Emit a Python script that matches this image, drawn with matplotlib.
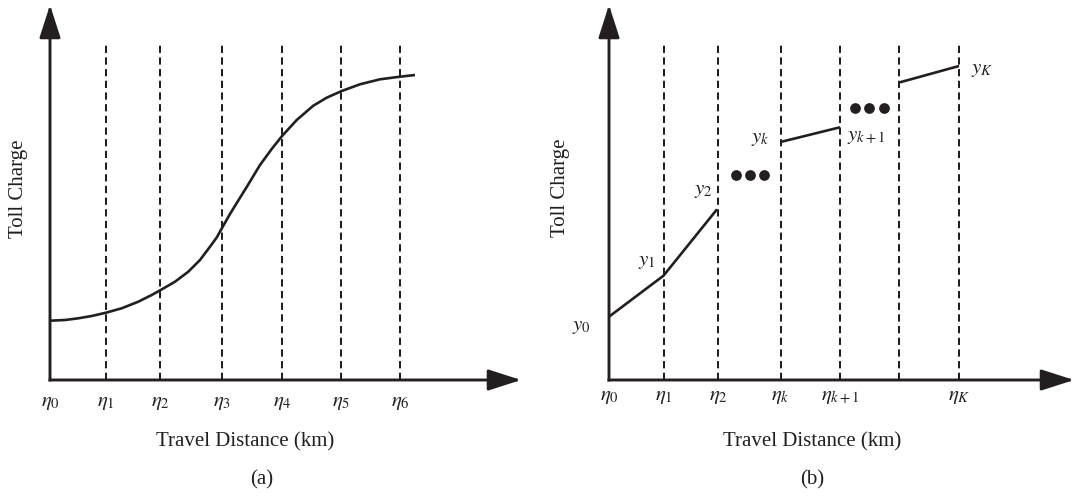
import matplotlib
matplotlib.use("Agg")
import matplotlib.pyplot as plt

INK = "#231f20"
W, H = 1075, 496

plt.rcParams["font.family"] = ["Liberation Serif", "DejaVu Serif"]
plt.rcParams["mathtext.fontset"] = "stix"

# panel (a): distance breakpoints and the smooth toll curve
eta_a = [0, 5.6, 11.0, 17.2, 23.2, 29.1, 35.0]
eta_a_labels = [r"$\eta_{%d}$" % i for i in range(7)]
curve_x = [0, 1.5, 2.83, 4.17, 5.6, 7.17, 8.83, 10.17, 11.07, 12.5, 13.83,
           15.0, 16.0, 16.67, 17.2, 18.0, 18.83, 19.67, 21.0, 22.17, 23.23,
           24.67, 26.33, 27.67, 29.17, 31.0, 33.0, 35.0, 36.5]
curve_y = [5.93, 6.0, 6.17, 6.4, 6.73, 7.17, 7.83, 8.5, 9.0, 9.83, 10.83,
           12.0, 13.33, 14.25, 15.2, 16.6, 17.95, 19.3, 21.5, 23.1, 24.43,
           26.0, 27.43, 28.23, 28.9, 29.57, 30.07, 30.33, 30.5]

# panel (b): piecewise linear toll segments
eta_b = [0, 5.45, 10.9, 17.15, 23.1, 29.0, 35.0]
eta_b_labels = [r"$\eta_0$", r"$\eta_1$", r"$\eta_2$", r"$\eta_k$",
                r"$\eta_{k+1}$", "", r"$\eta_K$"]
seg_x = [[0, 5.45, 10.8], [17.27, 23.1], [29.1, 35.0]]
seg_y = [[6.33, 10.43, 17.07], [23.83, 25.27], [29.77, 31.4]]
dots_x = [[12.67, 14.11, 15.49], [24.6, 26.03, 27.53]]
dots_y = [20.5, 27.17]
y_names = [r"$y_0$", r"$y_1$", r"$y_2$", r"$y_k$", r"$y_{k+1}$", r"$y_K$"]

TOP = 37.5
DASH_TOP = 33.5


def px(x, y):
    return x / W, 1 - y / H


def make_axes(fig, left, right, top=5, bottom=380):
    ax = fig.add_axes([left / W, 1 - bottom / H, (right - left) / W, (bottom - top) / H])
    ax.patch.set_alpha(0)
    for s in ax.spines.values():
        s.set_visible(False)
    ax.set_ylim(0, TOP)
    ax.set_yticks([])
    arrow = dict(arrowstyle="-|>,head_length=20.2,head_width=6.5", mutation_scale=1,
                 lw=2.1, color=INK, shrinkA=0, shrinkB=0, capstyle="projecting")
    ax.annotate("", xy=(1, 0), xytext=(0, 0), xycoords="axes fraction", arrowprops=arrow)
    ax.annotate("", xy=(0, 1), xytext=(0, 0), xycoords="axes fraction", arrowprops=arrow)
    return ax


def dashed(ax, xs):
    for x in xs:
        (ln,) = ax.plot([x, x], [0, DASH_TOP], color=INK, lw=1.45)
        ln.set_dashes([3.6, 2.2])


fig = plt.figure(figsize=(W / 100, H / 100), dpi=100)

# (a)
ax = make_axes(fig, 50, 521)
ax.set_xlim(0, 47.1)
dashed(ax, eta_a[1:])
ax.plot(curve_x, curve_y, color=INK, lw=1.9, solid_capstyle="butt", solid_joinstyle="round")
ax.set_xticks(eta_a, eta_a_labels, fontsize=15)
ax.tick_params(axis="x", length=0, pad=9, colors=INK)
fig.text(*px(19, 189), "Toll Charge", rotation=90, ha="center", va="center", fontsize=15, color=INK)
fig.text(*px(245, 442), "Travel Distance (km)", ha="center", va="center", fontsize=15, color=INK)
fig.text(*px(262, 480), "(a)", ha="center", va="center", fontsize=15, color=INK)

# (b)
ax = make_axes(fig, 609, 1074)
ax.set_xlim(0, 46.5)
dashed(ax, eta_b[1:])
for xs, ys in zip(seg_x, seg_y):
    ax.plot(xs, ys, color=INK, lw=1.9, solid_capstyle="butt")
for xs, y in zip(dots_x, dots_y):
    ax.plot(xs, [y] * len(xs), "o", ms=6.7, color=INK)
ax.set_xticks(eta_b, eta_b_labels, fontsize=15)
ax.tick_params(axis="x", length=0, pad=5, colors=INK)
name_pos = [(-2.75, 5.33), (3.79, 11.83), (9.4, 19.0), (15.15, 24.17), (25.7, 24.3), (37.35, 31.0)]
for name, (x, y) in zip(y_names, name_pos):
    ax.text(x, y, name, ha="center", va="center", fontsize=15, color=INK)
fig.text(*px(561, 188), "Toll Charge", rotation=90, ha="center", va="center", fontsize=15, color=INK)
fig.text(*px(812, 442), "Travel Distance (km)", ha="center", va="center", fontsize=15, color=INK)
fig.text(*px(812, 480), "(b)", ha="center", va="center", fontsize=15, color=INK)

fig.savefig("out.png", dpi=100, facecolor="white")
